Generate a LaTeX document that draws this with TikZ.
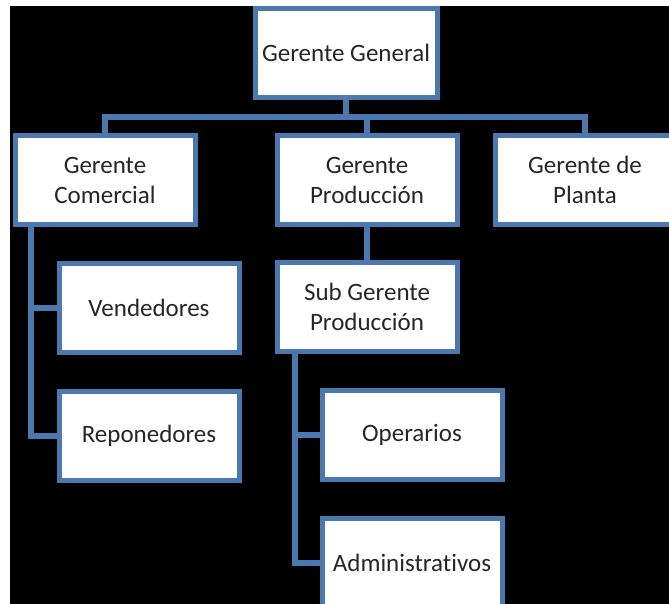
\documentclass[tikz,border=0pt]{standalone}
\usepackage{fontspec}
\setmainfont{Carlito}[Ligatures=NoCommon]
\definecolor{orgblue}{RGB}{76,120,176}
\tikzset{
  cargo/.style={draw=orgblue,line width=5pt,fill=white,minimum width=180pt,
    minimum height=89pt,align=center,text=black!85,inner sep=2pt,
    font=\fontsize{25}{30}\selectfont},
  link/.style={draw=orgblue,line width=6pt}
}
\begin{document}
\begin{tikzpicture}[x=1pt,y=-1pt]
\useasboundingbox (0,0) rectangle (669,604);
\fill[white] (0,0) rectangle (669,604);
\fill[black] (10,6) rectangle (669,604);
\node[cargo,minimum width=182pt] (gg) at (346,53) {Gerente General};
\node[cargo] (gc) at (105,180) {Gerente\\Comercial};
\node[cargo] (gp) at (367,180) {Gerente\\Producción};
\node[cargo] (gpl) at (585,180) {Gerente de\\Planta};
\node[cargo] (sgp) at (367,307) {Sub Gerente\\Producción};
\node[cargo] (ven) at (149,308) {Vendedores};
\node[cargo] (rep) at (149,436) {Reponedores};
\node[cargo] (ope) at (412,435) {Operarios};
\node[cargo] (adm) at (412,563) {Administrativos};
\coordinate (bar) at (346,117);
% connectors
\draw[link] (gg.south) -- (bar);
\draw[link] (gc.north) |- (bar) -| (gpl.north);
\draw[link] (gp.north) -- (gp.north |- bar);
\draw[link] (gp.south) -- (sgp.north);
\draw[link] ([xshift=18pt]gc.south west) |- (ven.west);
\draw[link] ([xshift=18pt]gc.south west) |- (rep.west);
\draw[link] ([xshift=20pt]sgp.south west) |- (ope.west);
\draw[link] ([xshift=20pt]sgp.south west) |- (adm.west);
\end{tikzpicture}
\end{document}
